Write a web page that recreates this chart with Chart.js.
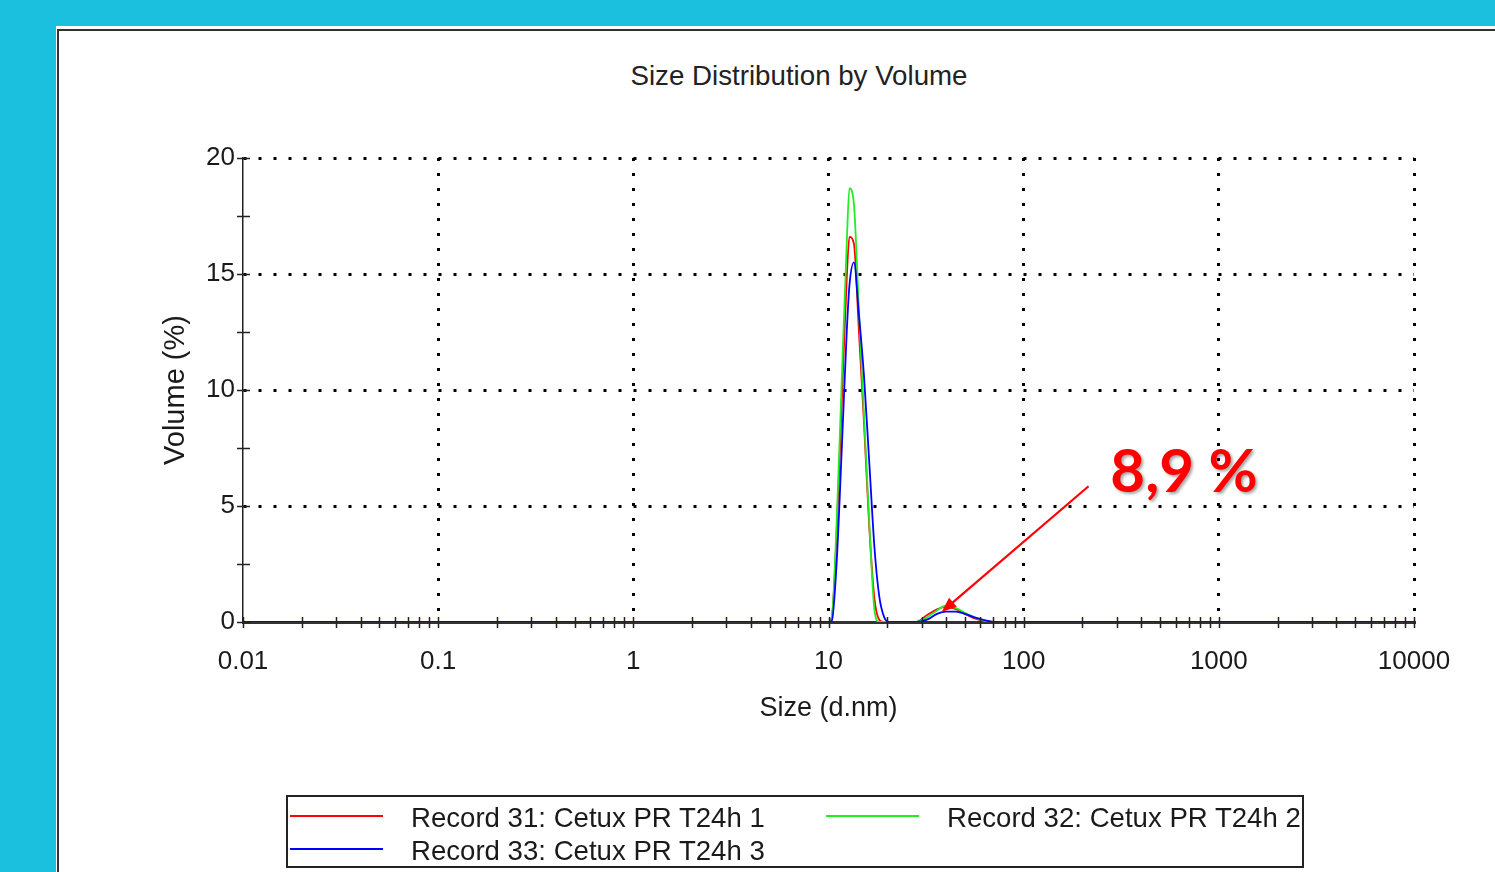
<!DOCTYPE html>
<html>
<head>
<meta charset="utf-8">
<script src="https://cdn.jsdelivr.net/npm/chart.js@4.4.1/dist/chart.umd.min.js"></script>
<style>
  html, body { margin: 0; padding: 0; }
  body {
    width: 1495px; height: 872px; position: relative; overflow: hidden;
    background: #1cc0df;
    font-family: "Liberation Sans", Arial, sans-serif;
  }
  .panel { position: absolute; left: 56px; top: 26px; right: 0; bottom: 0; background: #fff; }
  .frame { position: absolute; left: 57px; top: 29px; right: -4px; bottom: -4px;
           border-left: 2px solid #333; border-top: 2px solid #333; }
  #wrap { position: absolute; left: 0; top: 0; width: 1495px; height: 872px; }
  .title { position: absolute; left: 499px; width: 600px; top: 59px; text-align: center;
           font-size: 27.7px; color: #222; line-height: 34px; }
  .legend { position: absolute; left: 286px; top: 795px; width: 1018px; height: 73px;
            box-sizing: border-box; border: 2px solid #222; padding-top: 4px;
            display: grid; grid-template-columns: 536px auto; }
  .legend .item { display: flex; align-items: center; height: 33px;
                  font-size: 27.6px; color: #1a1a1a; white-space: nowrap; }
  .legend .swatch { width: 93px; height: 2px; margin-left: 2px; margin-right: 28px; position: relative; top: -2px; }
</style>
</head>
<body>
<div class="panel"></div>
<div class="frame"></div>
<div class="title">Size Distribution by Volume</div>
<div id="wrap"><canvas id="chart" width="1495" height="872"></canvas></div>
<div class="legend" id="legend"></div>

<script>
// size classes (d.nm) and volume % per record
const sizes = [0.01, 10.0, 10.4, 11.0, 11.7, 12.4, 12.8, 13.5, 14.3, 15.2, 16.2, 17.2, 18.2, 19.3, 20.5,
               28, 32, 36, 40, 45, 50, 56, 63, 71, 10000];
const rec31 = [0, 0, 0.2, 3.8, 9.5, 14.8, 16.6, 16.3, 12.6, 8.6, 4.0, 1.0, 0.1, 0, 0,
               0, 0.3, 0.55, 0.65, 0.55, 0.35, 0.15, 0.05, 0, 0];
const rec32 = [0, 0, 0.2, 4.2, 10.5, 16.3, 18.7, 18.0, 13.5, 8.9, 4.2, 0.5, 0, 0, 0,
               0, 0.2, 0.5, 0.7, 0.6, 0.4, 0.2, 0.05, 0, 0];
const rec33 = [0, 0, 0.05, 2.5, 7.5, 12.5, 14.5, 15.5, 13.3, 10.6, 6.8, 3.2, 1.1, 0.2, 0,
               0, 0.1, 0.35, 0.45, 0.45, 0.35, 0.2, 0.08, 0, 0];

const seriesLabels = ['Record 31: Cetux PR T24h 1', 'Record 32: Cetux PR T24h 2', 'Record 33: Cetux PR T24h 3'];
const seriesColors = ['#ff0000', '#22ee22', '#0000ff'];

const xTickValues = [0.01, 0.1, 1, 10, 100, 1000, 10000];
const xTickLabels = ['0.01', '0.1', '1', '10', '100', '1000', '10000'];
const yTickValues = [0, 5, 10, 15, 20];

// annotation (data coords)
const noteText = '8,9 %';
const arrowTip = { x: 38, y: 0.43 };
const arrowTail = { x: 215, y: 5.85 };
const notePos = { x: 278, y: 5.6 };

function toPoints(vals) {
  return vals.map((v, i) => ({ x: sizes[i], y: v }));
}

const datasets = [rec31, rec32, rec33].map((vals, i) => ({
  label: seriesLabels[i],
  data: toPoints(vals),
  borderColor: seriesColors[i],
  borderWidth: 1.8,
  pointRadius: 0,
  cubicInterpolationMode: 'monotone',
  fill: false,
  order: 3 - i
}));

// legend, two columns like the instrument software
const legendEl = document.getElementById('legend');
datasets.forEach(ds => {
  const item = document.createElement('div');
  item.className = 'item';
  const sw = document.createElement('span');
  sw.className = 'swatch';
  sw.style.background = ds.borderColor;
  item.appendChild(sw);
  item.appendChild(document.createTextNode(ds.label));
  legendEl.appendChild(item);
});

// small ticks crossing the axes + the arrow note
const extras = {
  id: 'extras',
  afterDatasetsDraw(chart) {
    const ctx = chart.ctx;
    const xs = chart.scales.x, ys = chart.scales.y;
    const area = chart.chartArea;
    ctx.save();
    ctx.strokeStyle = '#222';
    ctx.lineWidth = 1.5;
    ctx.beginPath();
    for (let v = 0; v <= 20; v += 2.5) {
      const py = Math.round(ys.getPixelForValue(v)) + 0.5;
      ctx.moveTo(area.left - 6, py);
      ctx.lineTo(area.left + 7, py);
    }
    for (let d = 0.01; d < 10000; d *= 10) {
      for (let k = 1; k <= 9; k++) {
        const px = Math.round(xs.getPixelForValue(d * k)) + 0.5;
        ctx.moveTo(px, area.bottom - 5);
        ctx.lineTo(px, area.bottom + 6);
      }
    }
    const pxEnd = Math.round(xs.getPixelForValue(10000)) + 0.5;
    ctx.moveTo(pxEnd, area.bottom - 5);
    ctx.lineTo(pxEnd, area.bottom + 6);
    ctx.stroke();

    // arrow
    const tx = xs.getPixelForValue(arrowTip.x), ty = ys.getPixelForValue(arrowTip.y);
    const sx = xs.getPixelForValue(arrowTail.x), sy = ys.getPixelForValue(arrowTail.y);
    const ang = Math.atan2(ty - sy, tx - sx);
    const head = 16;
    ctx.strokeStyle = '#ff0000';
    ctx.fillStyle = '#ff0000';
    ctx.lineWidth = 2.2;
    ctx.beginPath();
    ctx.moveTo(sx, sy);
    ctx.lineTo(tx - Math.cos(ang) * head * 0.8, ty - Math.sin(ang) * head * 0.8);
    ctx.stroke();
    ctx.beginPath();
    ctx.moveTo(tx, ty);
    ctx.lineTo(tx - head * Math.cos(ang - 0.38), ty - head * Math.sin(ang - 0.38));
    ctx.lineTo(tx - head * Math.cos(ang + 0.38), ty - head * Math.sin(ang + 0.38));
    ctx.closePath();
    ctx.fill();

    // label
    ctx.font = 'bold 60px Lato, "Open Sans", sans-serif';
    ctx.textBaseline = 'alphabetic';
    ctx.textAlign = 'left';
    ctx.shadowColor = 'rgba(0,0,0,0.35)';
    ctx.shadowOffsetX = 2;
    ctx.shadowOffsetY = 2;
    ctx.shadowBlur = 3;
    ctx.fillText(noteText, xs.getPixelForValue(notePos.x), ys.getPixelForValue(notePos.y));
    ctx.restore();
  }
};

new Chart(document.getElementById('chart'), {
  type: 'line',
  data: { datasets: datasets },
  plugins: [extras],
  options: {
    responsive: false,
    animation: false,
    layout: { padding: { left: 150, right: 81, top: 158, bottom: 140 } },
    plugins: {
      legend: { display: false },
      title: { display: false },
      tooltip: { enabled: false }
    },
    scales: {
      x: {
        type: 'logarithmic',
        min: 0.01,
        max: 10000,
        afterBuildTicks: s => { s.ticks = xTickValues.map(v => ({ value: v })); },
        afterFit: s => { s.height = 110; },
        ticks: {
          autoSkip: false,
          maxRotation: 0,
          padding: 24,
          color: '#1a1a1a',
          font: { family: '"Liberation Sans", Arial, sans-serif', size: 26 },
          callback: (v, i) => xTickLabels[i]
        },
        grid: {
          drawTicks: false,
          color: c => (c.tick && c.tick.value === 0.01) ? 'rgba(0,0,0,0)' : '#000',
          lineWidth: 3
        },
        border: { display: true, color: '#333', width: 3, dash: [3, 12] },
        title: {
          display: true,
          text: 'Size (d.nm)',
          color: '#1a1a1a',
          font: { family: '"Liberation Sans", Arial, sans-serif', size: 27 },
          padding: { top: 0, bottom: 7 }
        }
      },
      y: {
        min: 0,
        max: 20,
        afterBuildTicks: s => { s.ticks = yTickValues.map(v => ({ value: v })); },
        afterFit: s => { s.width = 93; },
        ticks: {
          padding: 8,
          color: '#1a1a1a',
          font: { family: '"Liberation Sans", Arial, sans-serif', size: 26 }
        },
        grid: {
          drawTicks: false,
          color: c => (c.tick && c.tick.value === 0) ? 'rgba(0,0,0,0)' : '#000',
          lineWidth: 3
        },
        border: { display: true, color: '#222', width: 1.5, dash: [3, 12] },
        title: {
          display: true,
          text: 'Volume (%)',
          color: '#1a1a1a',
          font: { family: '"Liberation Sans", Arial, sans-serif', size: 29 },
          padding: { top: 9, bottom: 0 }
        }
      }
    }
  }
});
</script>
</body>
</html>
